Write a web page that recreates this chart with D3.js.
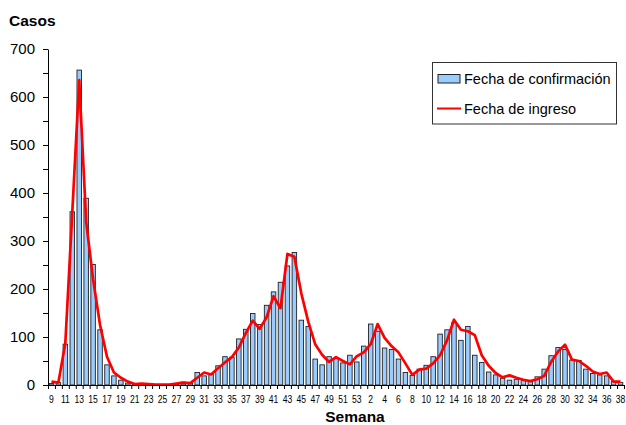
<!DOCTYPE html>
<html>
<head>
<meta charset="utf-8">
<script src="https://cdn.jsdelivr.net/npm/d3@7"></script>
<style>
  body { margin: 0; background: #fff; }
  text { font-family: "Liberation Sans", Arial, sans-serif; fill: #000; }
</style>
</head>
<body>
<svg id="chart" width="626" height="425"></svg>
<script>
// semanas epidemiologicas: 2020 (9-53) y 2021 (1-38)
const semanas = d3.range(9, 54).concat(d3.range(1, 39));

// casos por fecha de confirmacion (barras)
const confirmacion = [
  3, 5, 85, 361, 656, 389, 251, 115, 42, 19, 10, 4, 2, 2, 1, 1, 1, 1, 2, 6, 4,
  26, 19, 22, 40, 59, 58, 96, 116, 149, 126, 166, 194, 214, 248, 276, 135, 122,
  54, 42, 59, 55, 46, 62, 48,
  81, 127, 112, 77, 74, 54, 26, 20, 33, 41, 59, 106, 115, 130, 93, 122, 62, 47,
  27, 21, 14, 10, 12, 9, 7, 17, 33, 61, 78, 74, 52, 51, 33, 24, 21, 19, 7, 5
];

// casos por fecha de ingreso (linea)
const ingreso = [
  7, 5, 88, 360, 635, 340, 220, 125, 59, 26, 15, 7, 2, 3, 2, 1, 1, 1, 3, 5, 4,
  15, 26, 22, 35, 47, 58, 78, 108, 134, 117, 141, 185, 160, 273, 267, 191, 132,
  85, 63, 48, 58, 50, 43, 60,
  68, 85, 127, 98, 81, 68, 45, 21, 32, 34, 45, 62, 93, 136, 115, 112, 104, 62,
  40, 25, 16, 20, 15, 11, 8, 12, 19, 48, 70, 84, 53, 50, 40, 28, 23, 26, 7, 7
];

const yTicks = d3.range(0, 701, 50);

const plotL = 48, plotR = 624, plotT = 49, plotB = 385;
const svg = d3.select("#chart");

const x = d3.scaleBand()
    .domain(d3.range(semanas.length))
    .range([plotL, plotR])
    .paddingInner(0.35)
    .paddingOuter(0.175);

const y = d3.scaleLinear()
    .domain([0, 700])
    .range([plotB, plotT]);

// bars
svg.append("g")
  .selectAll("rect")
  .data(confirmacion)
  .join("rect")
    .attr("x", (d, i) => x(i))
    .attr("y", d => y(d))
    .attr("width", x.bandwidth())
    .attr("height", d => y(0) - y(d))
    .attr("fill", "#99ccff")
    .attr("stroke", "#222")
    .attr("stroke-width", 0.9);

// red line
const line = d3.line()
    .x((d, i) => x(i) + x.bandwidth() / 2)
    .y(d => y(d));

svg.append("path")
    .datum(ingreso)
    .attr("d", line)
    .attr("fill", "none")
    .attr("stroke", "#ff0000")
    .attr("stroke-width", 2.7)
    .attr("stroke-linejoin", "round");

// y axis
const yAxis = svg.append("g")
    .attr("transform", `translate(${plotL},0)`)
    .call(d3.axisLeft(y)
      .tickValues(yTicks)
      .tickFormat(d => d % 100 === 0 ? d : "")
      .tickSize(5)
      .tickSizeOuter(0));
yAxis.selectAll("text")
    .attr("font-size", 15)
    .attr("x", -13)
    .attr("font-family", "Liberation Sans, Arial, sans-serif");

// x axis: ticks between bars
const edges = d3.scaleLinear()
    .domain([0, semanas.length])
    .range([plotL, plotR]);
svg.append("g")
    .attr("transform", `translate(0,${plotB})`)
    .call(d3.axisBottom(edges)
      .tickValues(d3.range(semanas.length + 1))
      .tickFormat("")
      .tickSize(4)
      .tickSizeOuter(0));

// x axis labels, every other week (condensed like the original)
const xLab = svg.append("g")
    .attr("transform", `translate(0,${plotB})`)
    .call(d3.axisBottom(x)
      .tickFormat(i => i % 2 === 0 ? semanas[i] : "")
      .tickSize(0));
xLab.select(".domain").remove();
xLab.selectAll("text")
    .attr("y", 10)
    .attr("font-size", 11)
    .attr("transform", "scale(0.78,1)")
    .attr("font-family", "Liberation Sans, Arial, sans-serif");

svg.selectAll(".domain, .tick line").attr("stroke", "#000");

// titles
svg.append("text")
    .attr("x", 9)
    .attr("y", 26)
    .attr("font-size", 15.5)
    .attr("font-weight", "bold")
    .text("Casos");

svg.append("text")
    .attr("x", 355)
    .attr("y", 422)
    .attr("text-anchor", "middle")
    .attr("font-size", 15.5)
    .attr("font-weight", "bold")
    .text("Semana");

// legend
const lg = svg.append("g");
lg.append("rect")
    .attr("x", 432.5).attr("y", 62.5)
    .attr("width", 184).attr("height", 61.5)
    .attr("fill", "#fff")
    .attr("stroke", "#333");
lg.append("rect")
    .attr("x", 438).attr("y", 74.5)
    .attr("width", 22).attr("height", 8.5)
    .attr("fill", "#99ccff")
    .attr("stroke", "#222");
lg.append("text")
    .attr("x", 464).attr("y", 84)
    .attr("font-size", 14.5)
    .text("Fecha de confirmación");
lg.append("line")
    .attr("x1", 437).attr("x2", 461)
    .attr("y1", 108.5).attr("y2", 108.5)
    .attr("stroke", "#ff0000")
    .attr("stroke-width", 2);
lg.append("text")
    .attr("x", 464).attr("y", 114)
    .attr("font-size", 14.5)
    .text("Fecha de ingreso");
</script>
</body>
</html>
